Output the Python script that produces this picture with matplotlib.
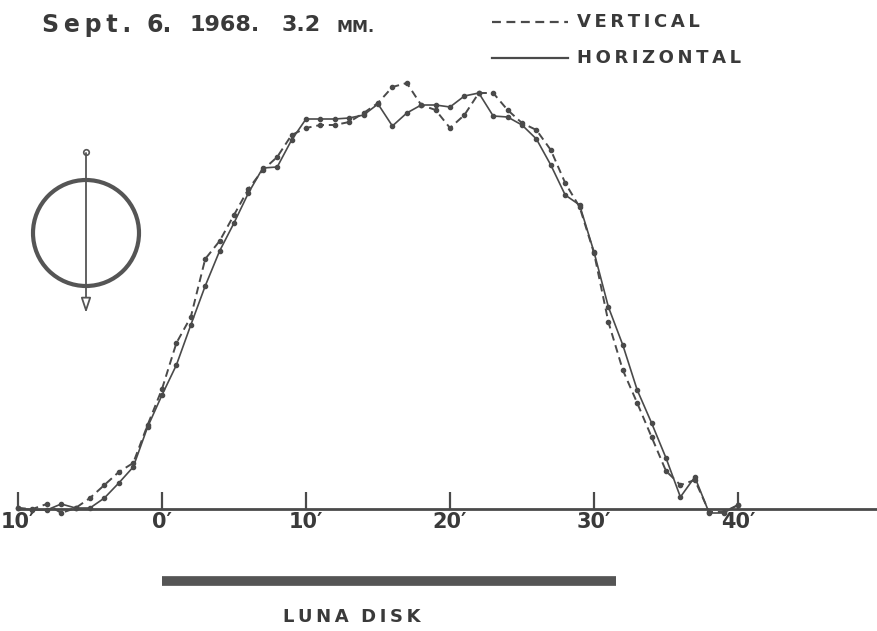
import matplotlib
matplotlib.use("Agg")
import matplotlib.pyplot as plt
from matplotlib.patches import Circle

# scan profile across the moon, one sample per arc-minute
offset_arcmin = list(range(-10, 41))

# relative antenna temperature, vertical scan (dashed)
vertical = [1, 0, 5, -4, 1, 11, 24, 37, 46, 84,
            120, 166, 192, 250, 268, 294, 320, 339, 352, 374,
            381, 384, 384, 387, 396, 406, 422, 426, 404, 399,
            381, 394, 416, 416, 399, 386, 379, 359, 326, 302,
            256, 187, 139, 106, 72, 38, 24, 29, -3, -3,
            4]

# relative antenna temperature, horizontal scan (solid)
horizontal = [1, -1, -1, 5, 1, 1, 11, 26, 42, 82,
              114, 144, 184, 223, 258, 286, 316, 341, 342, 369,
              390, 390, 390, 391, 394, 405, 383, 396, 404, 404,
              402, 413, 416, 393, 392, 384, 370, 344, 314, 304,
              257, 202, 164, 119, 86, 51, 12, 32, -4, -4,
              4]

tick_pos = [-10, 0, 10, 20, 30, 40]
tick_labels = ["10\u2032", "0\u2032", "10\u2032", "20\u2032", "30\u2032", "40\u2032"]

disk_start, disk_end = 0, 31.5

INK = "#4a4a4a"
W, H = 877, 631

fig = plt.figure(figsize=(W / 100, H / 100), dpi=100)
fig.patch.set_facecolor("white")

# main profile axes: 14.4 px per arc-minute, 0' at x=162, baseline at y=509
ax = fig.add_axes([18 / W, 1 - 509 / H, (877 - 18) / W, (509 - 60) / H])
ax.patch.set_visible(False)
ax.set_xlim(-10, (877 - 162) / 14.4)
ax.set_ylim(0, 449)

ax.plot(offset_arcmin, vertical, ls=(0, (4, 2.5)), lw=1.4, color=INK,
        marker="o", ms=3, clip_on=False)
ax.plot(offset_arcmin, horizontal, ls="-", lw=1.2, color=INK,
        marker="o", ms=3, clip_on=False)

for side in ("left", "right", "top"):
    ax.spines[side].set_visible(False)
ax.spines["bottom"].set_linewidth(2)
ax.spines["bottom"].set_color(INK)
ax.set_yticks([])
ax.set_xticks(tick_pos, tick_labels)
ax.tick_params(axis="x", direction="in", length=12, width=1.6, color=INK,
               pad=2, labelsize=15, labelcolor="#3a3a3a")
for lbl in ax.get_xticklabels():
    lbl.set_fontweight("bold")

# bar marking the lunar disk below the axis
ax.plot([disk_start, disk_end], [-0.161, -0.161], lw=7, color="#555555",
        solid_capstyle="butt", transform=ax.get_xaxis_transform(), clip_on=False)

# overlay in pixel coordinates for lettering and the scan-direction sketch
deco = fig.add_axes([0, 0, 1, 1], zorder=-1)
deco.set_xlim(0, W)
deco.set_ylim(H, 0)
deco.axis("off")

thin = "\u2009"
bold = dict(fontweight="bold", color="#3a3a3a", va="center", ha="left")
deco.text(42, 25, thin.join("Sept."), fontsize=17, **bold)
deco.text(147, 25, "6.", fontsize=17, **bold)
deco.text(190, 25, "1968.", fontsize=16, **bold)
deco.text(282, 25, "3.2", fontsize=16, **bold)
deco.text(337, 27, "MM.", fontsize=11.5, **bold)

deco.plot([492, 568], [22, 22], ls=(0, (4, 2.5)), lw=1.6, color=INK)
deco.text(577, 22, thin.join("VERTICAL"), fontsize=13, **bold)
deco.plot([492, 568], [58, 58], ls="-", lw=1.6, color=INK)
deco.text(577, 58, thin.join("HORIZONTAL"), fontsize=13, **bold)

deco.text(352, 617, thin.join("LUNA") + "  " + thin.join("DISK"),
          fontsize=13, fontweight="bold", color="#3a3a3a",
          va="center", ha="center")

# moon with the scan direction arrow
deco.add_patch(Circle((86, 233), 53, fill=False, lw=3, ec="#555555"))
deco.annotate("", xy=(86, 313), xytext=(86, 153),
              arrowprops=dict(arrowstyle="-|>,head_length=0.9,head_width=0.3",
                              lw=1.3, ec="#555555", fc="white",
                              shrinkA=0, shrinkB=0))
deco.plot(86, 152, "o", ms=4, mfc="white", mec="#555555", mew=1.2)

fig.savefig("out.png", dpi=100)
